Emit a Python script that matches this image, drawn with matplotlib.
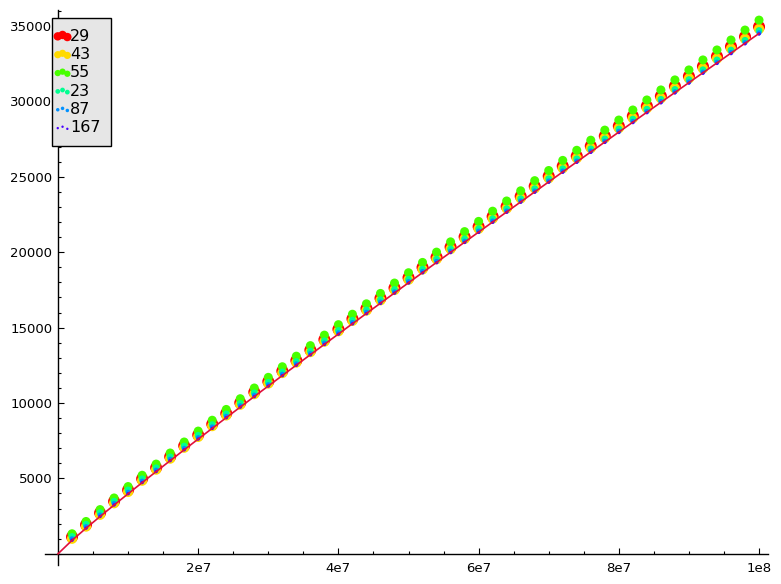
import matplotlib
matplotlib.use("Agg")
import matplotlib.pyplot as plt
from matplotlib.ticker import MultipleLocator
from matplotlib.collections import PathCollection
from matplotlib.legend_handler import HandlerPathCollection

x = [2e6 * i for i in range(1, 51)]

s29 = [1121, 1930, 2712, 3477, 4230, 4973, 5708, 6438, 7163, 7881,
       8597, 9308, 10015, 10720, 11421, 12120, 12816, 13511, 14202, 14892,
       15579, 16265, 16949, 17631, 18312, 18991, 19669, 20346, 21020, 21693,
       22367, 23037, 23707, 24377, 25044, 25711, 26377, 27042, 27705, 28368,
       29030, 29691, 30351, 31011, 31669, 32327, 32984, 33641, 34296, 34950]
s43 = [1000, 1809, 2590, 3354, 4106, 4849, 5584, 6313, 7037, 7755,
       8470, 9180, 9887, 10591, 11292, 11989, 12685, 13379, 14070, 14759,
       15446, 16132, 16814, 17496, 18176, 18855, 19533, 20208, 20882, 21555,
       22228, 22897, 23567, 24236, 24903, 25569, 26234, 26899, 27562, 28224,
       28885, 29546, 30205, 30864, 31522, 32179, 32836, 33492, 34146, 34800]
s55 = [1329, 2144, 2932, 3702, 4460, 5208, 5949, 6684, 7413, 8137,
       8857, 9573, 10285, 10994, 11701, 12404, 13105, 13804, 14500, 15195,
       15887, 16577, 17266, 17953, 18639, 19322, 20005, 20686, 21365, 22043,
       22720, 23396, 24071, 24744, 25417, 26088, 26758, 27428, 28096, 28763,
       29430, 30095, 30760, 31424, 32086, 32749, 33411, 34072, 34731, 35390]
s23 = [1150, 1953, 2729, 3487, 4234, 4970, 5700, 6424, 7142, 7855,
       8565, 9270, 9971, 10670, 11366, 12059, 12749, 13438, 14124, 14808,
       15489, 16170, 16848, 17525, 18199, 18873, 19546, 20217, 20885, 21553,
       22221, 22886, 23551, 24214, 24876, 25538, 26198, 26858, 27515, 28173,
       28829, 29485, 30140, 30793, 31446, 32099, 32751, 33402, 34051, 34700]
s87 = [1000, 1803, 2579, 3337, 4084, 4820, 5550, 6274, 6992, 7705,
       8415, 9120, 9821, 10520, 11216, 11909, 12599, 13288, 13974, 14658,
       15339, 16020, 16698, 17375, 18049, 18723, 19396, 20067, 20735, 21403,
       22071, 22736, 23401, 24064, 24726, 25388, 26048, 26708, 27365, 28023,
       28679, 29335, 29990, 30643, 31296, 31949, 32601, 33252, 33901, 34550]
s167 = [899, 1703, 2478, 3238, 3985, 4723, 5453, 6177, 6895, 7609,
        8318, 9024, 9726, 10425, 11121, 11815, 12506, 13194, 13881, 14565,
        15248, 15928, 16607, 17284, 17959, 18633, 19306, 19977, 20647, 21315,
        21983, 22649, 23314, 23977, 24640, 25302, 25962, 26622, 27281, 27938,
        28595, 29251, 29906, 30561, 31214, 31867, 32519, 33170, 33820, 34470]

line_x = [0] + x
line_y = [0, 893, 1697, 2474, 3234, 3982, 4720, 5451, 6176, 6896, 7610,
          8321, 9027, 9730, 10430, 11127, 11821, 12513, 13203, 13890, 14575,
          15258, 15940, 16619, 17297, 17973, 18648, 19322, 19994, 20664, 21333,
          22002, 22668, 23334, 23999, 24662, 25325, 25986, 26647, 27306, 27965,
          28622, 29279, 29935, 30590, 31244, 31898, 32551, 33203, 33854, 34504]

labels = ["29", "43", "55", "23", "87", "167"]
series = [s29, s43, s55, s23, s87, s167]
colors = ["#ff0000", "#ffda00", "#48ff00", "#00ff91", "#0091ff", "#4800ff"]
sizes = [75, 55, 42, 24, 13, 6]

xticks = [2e7, 4e7, 6e7, 8e7, 1e8]
xtick_labels = ["2e7", "4e7", "6e7", "8e7", "1e8"]
yticks = [5000, 10000, 15000, 20000, 25000, 30000, 35000]

fig = plt.figure(figsize=(7.81, 5.84), dpi=100)
ax = fig.add_axes([45 / 781, 19 / 584, 723 / 781, 555 / 584])

for vals, lab, col, sz in zip(series, labels, colors, sizes):
    ax.scatter(x, vals, s=sz, c=col, edgecolors="none", label=lab, zorder=2)

ax.plot(line_x, line_y, color="#e0103c", lw=1.2, zorder=3)

ax.set_xlim(-1.855e6, 1.0128e8)
ax.set_ylim(-743, 36060)

ax.spines["left"].set_position(("data", 0))
ax.spines["bottom"].set_position(("data", 0))
ax.spines["top"].set_visible(False)
ax.spines["right"].set_visible(False)
for sp in ["left", "bottom"]:
    ax.spines[sp].set_linewidth(1.0)

ax.set_xticks(xticks)
ax.set_xticklabels(xtick_labels)
ax.set_yticks(yticks)
ax.set_yticklabels([str(v) for v in yticks])
ax.xaxis.set_minor_locator(MultipleLocator(5e6))
ax.yaxis.set_minor_locator(MultipleLocator(1000))
ax.tick_params(which="both", direction="in", labelsize=9.5)
ax.tick_params(which="major", length=4, width=0.8)
ax.tick_params(which="minor", length=2, width=0.8)
ax.tick_params(axis="x", pad=6)
ax.tick_params(axis="y", pad=4)
ax.set_facecolor("none")

# three small dots per entry, packed close to the left edge
leg = ax.legend(loc="upper left", bbox_to_anchor=(52 / 781, 1 - 18 / 584),
                bbox_transform=fig.transFigure, borderaxespad=0,
                fontsize=11.5, fancybox=False, scatterpoints=3,
                markerscale=0.7, handlelength=0.0, handletextpad=0.47,
                borderpad=0.66, labelspacing=0.21, framealpha=1,
                handler_map={PathCollection: HandlerPathCollection(marker_pad=-0.3)})
leg.get_frame().set_facecolor("#e6e6e6")
leg.get_frame().set_edgecolor("black")
leg.get_frame().set_linewidth(1.0)

fig.savefig("out.png", dpi=100)
